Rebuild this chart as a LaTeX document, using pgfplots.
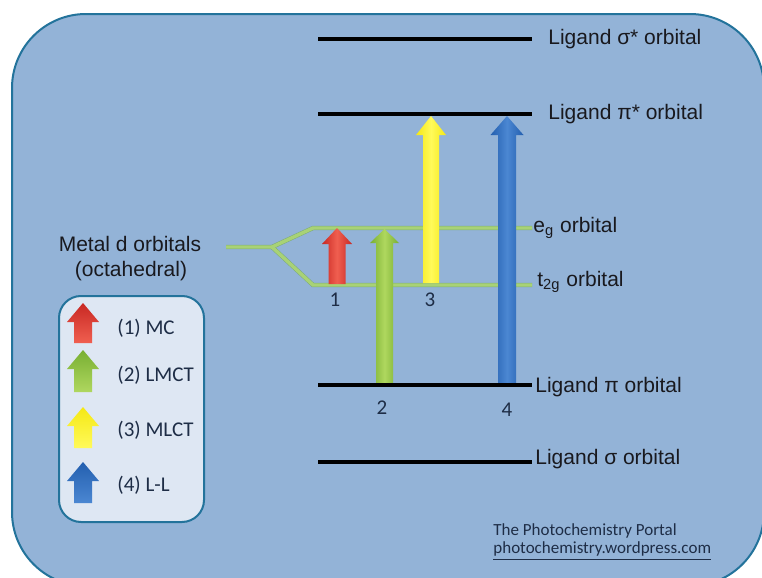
\documentclass[border=0pt]{standalone}
\usepackage{pgfplots}
\pgfplotsset{compat=1.18}
\usepackage{fontspec}
\setmainfont{Liberation Sans}
\newfontfamily\calibri{Carlito}

\definecolor{bgblue}{RGB}{147,179,215}
\definecolor{frameblue}{RGB}{35,115,155}
\definecolor{legbg}{RGB}{222,231,243}
\definecolor{dgreen}{RGB}{168,210,118}
\definecolor{dgreenE}{RGB}{125,172,118}
\definecolor{redD}{RGB}{200,40,35}
\definecolor{redL}{RGB}{240,95,80}
\definecolor{greenD}{RGB}{120,175,50}
\definecolor{greenL}{RGB}{175,215,95}
\definecolor{yellowD}{RGB}{245,232,20}
\definecolor{yellowL}{RGB}{255,250,90}
\definecolor{blueD}{RGB}{35,95,175}
\definecolor{blueL}{RGB}{75,135,210}
\definecolor{txt}{RGB}{25,25,30}
\definecolor{caltxt}{RGB}{30,45,70}

\begin{document}
\begin{tikzpicture}[
  lbl/.style={anchor=west, inner sep=0pt, text=txt, font=\fontsize{10.5}{12.6}\selectfont},
  num/.style={inner sep=0pt, text=caltxt, font=\calibri\fontsize{10.5}{12.6}\selectfont},
  leg/.style={anchor=west, inner sep=0pt, text=caltxt, font=\calibri\fontsize{10.5}{12.6}\selectfont},
]
\begin{axis}[
  width=381pt, height=289pt, scale only axis,
  xmin=0, xmax=762, ymin=0, ymax=578,
  y dir=reverse, hide axis, no markers,
]
% page and rounded panel
\addplot[fill=white, draw=none] coordinates {(0,0) (762,0) (762,578) (0,578)} -- cycle;
\addplot[fill=bgblue, draw=frameblue, line width=1pt, rounded corners=37pt]
  coordinates {(12,14) (764,14) (764,586) (12,586)} -- cycle;

% legend panel
\addplot[fill=legbg, draw=frameblue, line width=1pt, rounded corners=11pt]
  coordinates {(59,296) (204,296) (204,522) (59,522)} -- cycle;

% metal d orbital splitting
\addplot[dgreenE, line width=2.2pt] coordinates {(226,247) (272,247) (313,228) (532,228)};
\addplot[dgreenE, line width=2.2pt] coordinates {(272,247) (313,285) (532,285)};
\addplot[dgreen, line width=1.7pt] coordinates {(226,247) (272,247) (313,228) (532,228)};
\addplot[dgreen, line width=1.7pt] coordinates {(272,247) (313,285) (532,285)};

% transition arrows
\addplot[draw=none, left color=redD, right color=redD, middle color=redL]
  coordinates {(328.5,284) (328.5,244) (322,244) (337,228) (352,244) (345.5,244) (345.5,284)} -- cycle;
\addplot[draw=none, left color=greenD, right color=greenD, middle color=greenL]
  coordinates {(376,384) (376,243) (370,243) (384.5,229) (399,243) (393,243) (393,384)} -- cycle;
\addplot[draw=none, left color=yellowD, right color=yellowD, middle color=yellowL]
  coordinates {(423,283) (423,135) (416,135) (431,116) (446,135) (439,135) (439,283)} -- cycle;
\addplot[draw=none, left color=blueD, right color=blueD, middle color=blueL]
  coordinates {(498,384) (498,135) (490.5,135) (507,116) (523.5,135) (516,135) (516,384)} -- cycle;

% ligand levels
\addplot[black, line width=2pt] coordinates {(318,39) (532,39)};
\addplot[black, line width=2pt] coordinates {(318,114) (532,114)};
\addplot[black, line width=2pt] coordinates {(318,385) (532,385)};
\addplot[black, line width=2pt] coordinates {(318,462) (532,462)};

% legend arrows
\addplot[draw=none, top color=redD, bottom color=redL]
  coordinates {(74,343) (74,322) (67,322) (83,303) (99,322) (92,322) (92,343)} -- cycle;
\addplot[draw=none, top color=greenD, bottom color=greenL]
  coordinates {(74,392) (74,369) (67,369) (83,350) (99,369) (92,369) (92,392)} -- cycle;
\addplot[draw=none, top color=yellowD, bottom color=yellowL]
  coordinates {(74,448) (74,426) (67,426) (83,407) (99,426) (92,426) (92,448)} -- cycle;
\addplot[draw=none, top color=blueD, bottom color=blueL]
  coordinates {(74,503) (74,481) (67,481) (83,462) (99,481) (92,481) (92,503)} -- cycle;

% labels
\node[lbl] at (548,39) {Ligand σ* orbital};
\node[lbl] at (548,114) {Ligand π* orbital};
\node[lbl] at (533,228) {e\textsubscript{g} orbital};
\node[lbl] at (537,282) {t\textsubscript{2g} orbital};
\node[lbl] at (535,387) {Ligand π orbital};
\node[lbl] at (535,459) {Ligand σ orbital};
\node[lbl, anchor=center] at (130,244) {Metal d orbitals};
\node[lbl, anchor=center] at (131,271) {(octahedral)};

\node[num] at (335,300) {1};
\node[num] at (430,300) {3};
\node[num] at (382,408) {2};
\node[num] at (507,410) {4};

\node[leg] at (117,328) {(1) MC};
\node[leg] at (117,375) {(2) LMCT};
\node[leg] at (117,430) {(3) MLCT};
\node[leg] at (117,485) {(4) L-L};

\node[leg, font=\calibri\fontsize{8.5}{10}\selectfont] at (493,531) {The Photochemistry Portal};
\node[leg, font=\calibri\fontsize{8.5}{10}\selectfont] at (493,551) {\underline{photochemistry.wordpress.com}};
\end{axis}
\pgfresetboundingbox
\path[use as bounding box] (current axis.south west) rectangle (current axis.north east);
\end{tikzpicture}
\end{document}
